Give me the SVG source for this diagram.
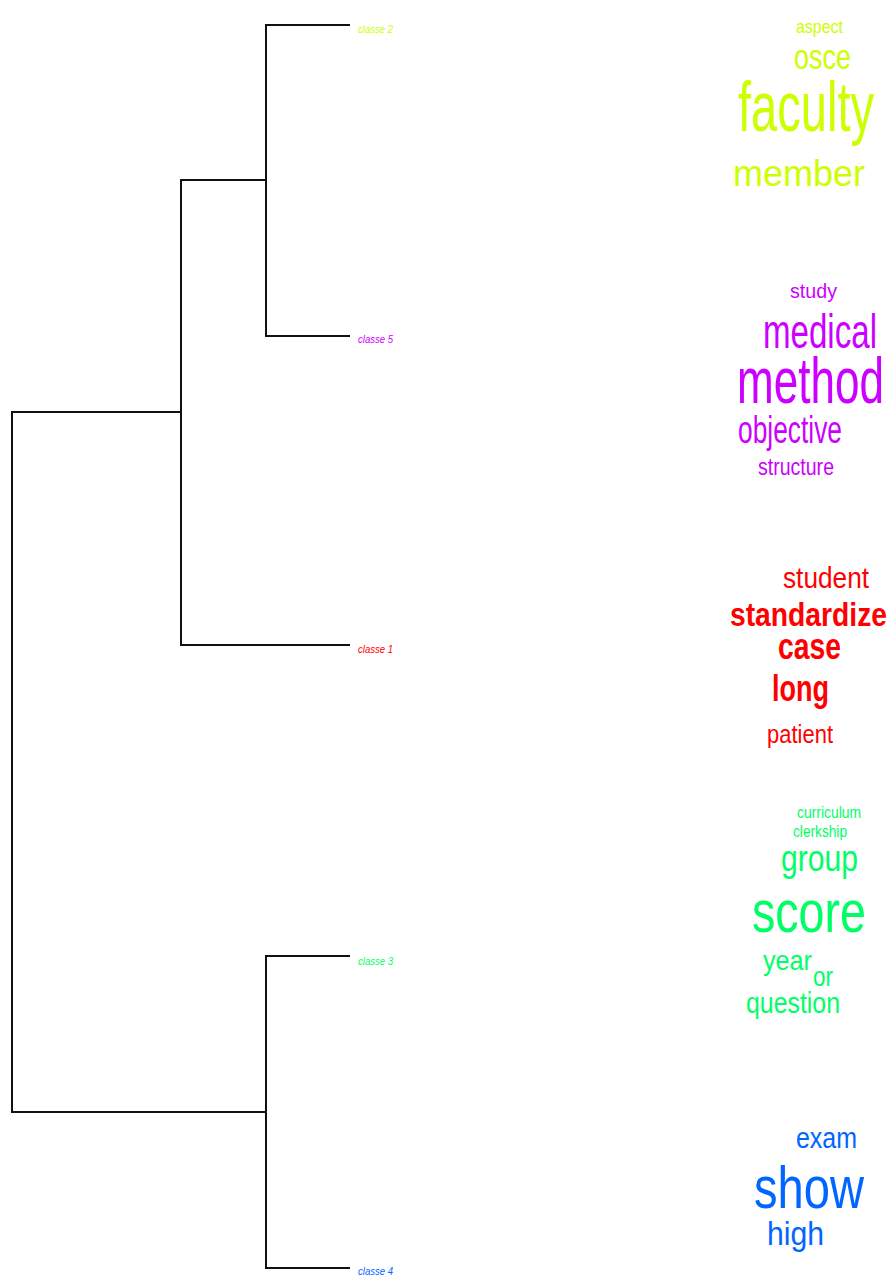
<svg xmlns="http://www.w3.org/2000/svg" width="889" height="1275" viewBox="0 0 889 1275">
<style>
.ln{stroke:#111;stroke-width:2;fill:none}
.lab{font-family:"Liberation Sans Narrow","Liberation Sans",Arial,sans-serif;font-style:italic;font-size:10px}
.w{font-family:"Liberation Sans Narrow","Liberation Sans",Arial,sans-serif}
.b{font-weight:bold}
.c2{fill:#CCFF00}.c5{fill:#CC00FF}.c1{fill:#FF0000}.c3{fill:#00FF66}.c4{fill:#0066FF}
</style>
<rect width="889" height="1275" fill="#fff"/>
<g id="connectors">
<path class="ln" d="M350,25H266V336H350"/>
<path class="ln" d="M266,180H181V645H350"/>
<path class="ln" d="M181,412H12V1112H266"/>
<path class="ln" d="M350,956H266V1268H350"/>
</g>
<g id="leaf-classe2"><text class="lab c2" x="358" y="33" textLength="35" lengthAdjust="spacingAndGlyphs">classe 2</text></g>
<g id="leaf-classe5"><text class="lab c5" x="358" y="343" textLength="35" lengthAdjust="spacingAndGlyphs">classe 5</text></g>
<g id="leaf-classe1"><text class="lab c1" x="358" y="653" textLength="35" lengthAdjust="spacingAndGlyphs">classe 1</text></g>
<g id="leaf-classe3"><text class="lab c3" x="358" y="965" textLength="35" lengthAdjust="spacingAndGlyphs">classe 3</text></g>
<g id="leaf-classe4"><text class="lab c4" x="358" y="1275" textLength="35" lengthAdjust="spacingAndGlyphs">classe 4</text></g>
<g id="cloud-classe2" class="w c2">
<text x="796" y="33" font-size="19" textLength="47" lengthAdjust="spacingAndGlyphs">aspect</text>
<text x="794" y="69" font-size="35" textLength="57" lengthAdjust="spacingAndGlyphs">osce</text>
<text x="738" y="131" font-size="70" textLength="136" lengthAdjust="spacingAndGlyphs">faculty</text>
<text x="733" y="186" font-size="36" textLength="132" lengthAdjust="spacingAndGlyphs">member</text>
</g>
<g id="cloud-classe5" class="w c5">
<text x="790" y="298" font-size="20" textLength="47" lengthAdjust="spacingAndGlyphs">study</text>
<text x="763" y="348" font-size="48" textLength="114" lengthAdjust="spacingAndGlyphs">medical</text>
<text x="737" y="403" font-size="65" textLength="147" lengthAdjust="spacingAndGlyphs">method</text>
<text x="738" y="443" font-size="38" textLength="104" lengthAdjust="spacingAndGlyphs">objective</text>
<text x="758" y="475" font-size="23" textLength="76" lengthAdjust="spacingAndGlyphs">structure</text>
</g>
<g id="cloud-classe1" class="w c1">
<text x="783" y="588" font-size="29" textLength="86" lengthAdjust="spacingAndGlyphs">student</text>
<text class="b" x="730" y="626" font-size="34" textLength="157" lengthAdjust="spacingAndGlyphs">standardize</text>
<text class="b" x="778" y="659" font-size="37" textLength="63" lengthAdjust="spacingAndGlyphs">case</text>
<text class="b" x="772" y="701" font-size="36" textLength="57" lengthAdjust="spacingAndGlyphs">long</text>
<text x="767" y="743" font-size="25" textLength="66" lengthAdjust="spacingAndGlyphs">patient</text>
</g>
<g id="cloud-classe3" class="w c3">
<text x="797" y="818" font-size="17" textLength="64" lengthAdjust="spacingAndGlyphs">curriculum</text>
<text x="793" y="837" font-size="17" textLength="54" lengthAdjust="spacingAndGlyphs">clerkship</text>
<text x="781" y="871" font-size="36" textLength="77" lengthAdjust="spacingAndGlyphs">group</text>
<text x="752" y="932" font-size="60" textLength="114" lengthAdjust="spacingAndGlyphs">score</text>
<text x="763" y="970" font-size="28" textLength="49" lengthAdjust="spacingAndGlyphs">year</text>
<text x="813" y="986" font-size="28" textLength="20" lengthAdjust="spacingAndGlyphs">or</text>
<text x="746" y="1013" font-size="29" textLength="94" lengthAdjust="spacingAndGlyphs">question</text>
</g>
<g id="cloud-classe4" class="w c4">
<text x="796" y="1148" font-size="29" textLength="61" lengthAdjust="spacingAndGlyphs">exam</text>
<text x="754" y="1208" font-size="60" textLength="110" lengthAdjust="spacingAndGlyphs">show</text>
<text x="767" y="1245" font-size="34" textLength="57" lengthAdjust="spacingAndGlyphs">high</text>
</g>
</svg>
